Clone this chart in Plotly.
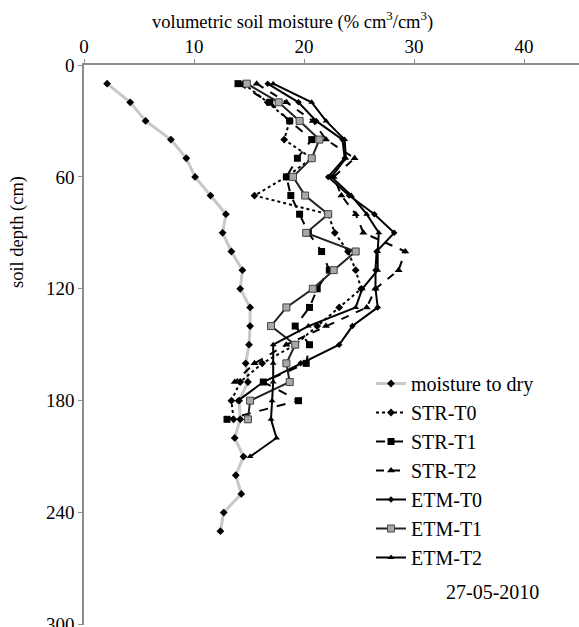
import plotly.graph_objects as go

# depths (cm) and volumetric soil moisture (% cm3/cm3)
depth_dry = [10, 20, 30, 40, 50, 60, 70, 80, 90, 100, 110, 120, 130, 140, 150, 160, 170,
             180, 190, 200, 210, 220, 230, 240, 250]
moisture_dry = [2.1, 4.2, 5.6, 7.9, 9.3, 10.1, 11.5, 12.9, 12.6, 13.4, 14.4, 14.2, 15.1, 15.1,
                15.0, 14.7, 14.9, 14.1, 14.2, 13.7, 14.5, 13.8, 14.3, 12.7, 12.4]

depth_str_t0 = [10, 20, 30, 40, 50, 60, 70, 80, 90, 100, 110, 120, 130, 140, 150, 160, 170, 180, 190]
str_t0 = [14.5, 16.7, 18.7, 18.2, 20.7, 18.4, 15.5, 22.2, 22.8, 24.0, 24.7, 25.2, 23.2, 21.2,
          19.2, 16.2, 14.2, 13.4, 13.6]

depth_str_t1 = [10, 20, 30, 40, 50, 60, 70, 80, 90, 100, 110, 120, 130, 140, 150, 160, 170, 180, 190]
str_t1 = [14.0, 16.9, 18.7, 20.7, 19.4, 18.4, 18.8, 19.6, 20.4, 21.6, 22.3, 21.2, 20.5, 19.2,
          20.5, 20.2, 16.3, 19.5, 13.0]

depth_str_t2 = [10, 20, 30, 40, 50, 60, 70, 80, 90, 100, 110, 120, 130, 140, 150, 160, 170]
str_t2 = [15.7, 18.4, 20.8, 22.0, 24.6, 22.7, 23.4, 24.7, 25.4, 29.2, 28.6, 26.5, 25.7, 22.0,
          18.4, 15.5, 13.7]

depth_etm_t0 = [10, 20, 30, 40, 50, 60, 70, 80, 90, 100, 110, 120, 130, 140, 150, 160, 170, 180]
etm_t0 = [16.7, 19.5, 21.1, 23.5, 23.7, 22.2, 24.1, 26.4, 28.2, 26.6, 26.5, 26.5, 26.7, 24.4,
          23.2, 19.7, 16.3, 14.0]

depth_etm_t1 = [10, 20, 30, 40, 50, 60, 70, 80, 90, 100, 110, 120, 130, 140, 150, 160, 170, 180, 190]
etm_t1 = [14.8, 17.7, 19.6, 21.4, 20.7, 19.0, 20.1, 22.2, 20.2, 24.7, 22.7, 20.8, 18.4, 17.0,
          19.2, 18.4, 18.7, 15.1, 14.9]

depth_etm_t2 = [10, 20, 30, 40, 50, 60, 70, 80, 90, 100, 110, 120, 130, 140, 150, 160, 170, 180,
                190, 200, 210]
etm_t2 = [17.2, 20.7, 22.0, 23.7, 23.8, 22.5, 24.3, 25.7, 26.8, 26.7, 26.7, 25.3, 24.7, 20.4,
          17.2, 17.2, 17.2, 17.1, 17.0, 17.5, 15.1]

x_ticks = [0, 10, 20, 30, 40]
y_ticks = [0, 60, 120, 180, 240, 300]

FONT = "Liberation Serif, Times New Roman, serif"

L, T, W, H = 84, 65, 579, 627
PW, PH = W - L, H - T - 2


def px(xp):
    return (xp - L) / PW


def py(yp):
    return (T + PH - yp) / PH


fig = go.Figure()

fig.add_trace(go.Scatter(
    x=moisture_dry, y=depth_dry, name="moisture to dry", mode="lines+markers",
    line=dict(color="#c8c8c8", width=3),
    marker=dict(symbol="diamond", size=6, color="black")))
fig.add_trace(go.Scatter(
    x=str_t0, y=depth_str_t0, name="STR-T0", mode="lines+markers",
    line=dict(color="black", width=2, dash="dot"),
    marker=dict(symbol="diamond", size=6, color="black")))
fig.add_trace(go.Scatter(
    x=str_t1, y=depth_str_t1, name="STR-T1", mode="lines+markers",
    line=dict(color="black", width=2, dash="dash"),
    marker=dict(symbol="square", size=7, color="black")))
fig.add_trace(go.Scatter(
    x=str_t2, y=depth_str_t2, name="STR-T2", mode="lines+markers",
    line=dict(color="black", width=2, dash="8px,8px"),
    marker=dict(symbol="triangle-up", size=7, color="black")))
fig.add_trace(go.Scatter(
    x=etm_t0, y=depth_etm_t0, name="ETM-T0", mode="lines+markers",
    line=dict(color="black", width=2),
    marker=dict(symbol="diamond", size=5, color="black")))
fig.add_trace(go.Scatter(
    x=etm_t1, y=depth_etm_t1, name="ETM-T1", mode="lines+markers",
    line=dict(color="#222222", width=2),
    marker=dict(symbol="square", size=7, color="#a8a8a8",
                line=dict(color="#444444", width=1))))
fig.add_trace(go.Scatter(
    x=etm_t2, y=depth_etm_t2, name="ETM-T2", mode="lines+markers",
    line=dict(color="black", width=2),
    marker=dict(symbol="triangle-up", size=6, color="black")))

fig.update_layout(
    width=W, height=H,
    margin=dict(l=L, r=0, t=T, b=2, autoexpand=False),
    paper_bgcolor="white", plot_bgcolor="white",
    font=dict(family=FONT, size=19, color="black"),
    showlegend=True,
    legend=dict(x=px(371), y=py(364), xanchor="left", yanchor="top",
                bgcolor="rgba(0,0,0,0)", font=dict(family=FONT, size=20),
                tracegroupgap=0),
    xaxis=dict(side="top", range=[0, 45], tickvals=x_ticks, showgrid=False, zeroline=False,
               showline=True, linecolor="#8c8c8c", linewidth=1.5, automargin=False,
               ticks="outside", ticklen=4, tickcolor="#8c8c8c",
               tickfont=dict(family=FONT, size=19), ticklabelstandoff=-1),
    yaxis=dict(range=[300.3, 0], tickvals=y_ticks, showgrid=False, zeroline=False,
               showline=True, linecolor="#8c8c8c", linewidth=1.5, automargin=False,
               ticks="outside", ticklen=4, tickcolor="#8c8c8c",
               ticklabeloverflow="allow",
               tickfont=dict(family=FONT, size=19)),
    annotations=[
        dict(text="volumetric soil moisture (% cm<sup>3</sup>/cm<sup>3</sup>)",
             xref="paper", yref="paper", x=px(292), y=py(20),
             xanchor="center", yanchor="middle", showarrow=False,
             font=dict(family=FONT, size=18.5)),
        dict(text="soil depth (cm)", textangle=-90,
             xref="paper", yref="paper", x=px(17), y=py(232),
             xanchor="center", yanchor="middle", showarrow=False,
             font=dict(family=FONT, size=18.5)),
        dict(text="27-05-2010", xref="paper", yref="paper",
             x=px(492), y=py(592),
             xanchor="center", yanchor="middle", showarrow=False,
             font=dict(family=FONT, size=20)),
    ],
)

fig.write_html("out.html", config={"displayModeBar": False},
               post_script="document.body.style.margin='0';document.body.style.padding='0';")
